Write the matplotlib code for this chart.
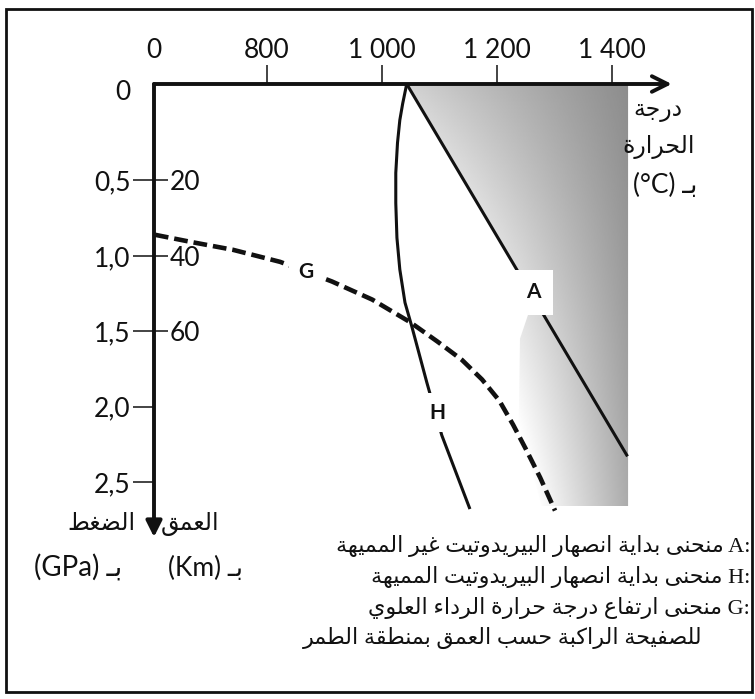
import numpy as np
import matplotlib
matplotlib.use('Agg')
import matplotlib.pyplot as plt
from matplotlib.patches import Polygon, Rectangle

# ---- values ----
# temperature axis (°C), broken between 0 and 800
temp_ticks = [800, 1000, 1200, 1400]
temp_labels = ['800', '1 000', '1 200', '1 400']
temp_zero = 603.5          # position of the "0" of the broken axis
temp_end = 1504            # arrow tip

# pressure axis (GPa) and matching depth (km, 40 km per GPa)
pres_ticks = [0.5, 1.0, 1.5, 2.0, 2.5]
pres_labels = ['0,5', '1,0', '1,5', '2,0', '2,5']
depth_ticks = [20, 40, 60]
pres_top = -0.14           # level of the temperature axis
pres_end = 2.865           # arrow tip

# A : onset of melting of dry peridotite
A_temp = [1043, 1427]
A_pres = [-0.14, 2.33]

# H : onset of melting of hydrated peridotite
H_temp = [1043, 1036, 1031, 1027, 1024, 1024, 1026, 1031, 1040, 1052, 1078, 1104, 1152]
H_pres = [-0.14, -0.01, 0.10, 0.25, 0.45, 0.65, 0.88, 1.09, 1.31, 1.47, 1.84, 2.19, 2.67]

# G : temperature of the upper mantle of the overriding plate vs depth
G_temp = [605, 671, 741, 823, 913, 983, 1049, 1097, 1139, 1174, 1204, 1228, 1250, 1275, 1301]
G_pres = [0.86, 0.91, 0.96, 1.04, 1.17, 1.29, 1.44, 1.57, 1.69, 1.82, 1.96, 2.12, 2.28, 2.47, 2.69]

# shaded (melting) zone
shade_temp = [1043, 1428, 1428, 1278, 1238, 1240, 1255, 1267]
shade_pres = [-0.14, -0.14, 2.66, 2.66, 2.1, 1.55, 1.38, 1.3]

# curve labels (letter, temperature, pressure)
curve_labels = [('A', 1263, 1.24), ('G', 868, 1.11), ('H', 1097, 2.04)]

temp_title = ['درجة', 'الحرارة', 'بـ (°C)']
pres_title = ['الضغط', 'بـ (GPa)']
depth_title = ['العمق', 'بـ (Km)']
legend_lines = ['A: منحنى بداية انصهار البيريدوتيت غير المميهة',
                'H: منحنى بداية انصهار البيريدوتيت المميهة',
                'G: منحنى ارتفاع درجة حرارة الرداء العلوي',
                'للصفيحة الراكبة حسب العمق بمنطقة الطمر']

# ---- simple arabic shaping (no reshaper available) ----
FORMS = {'ء': (0xFE80, False), 'آ': (0xFE81, False), 'أ': (0xFE83, False),
         'ؤ': (0xFE85, False), 'إ': (0xFE87, False), 'ئ': (0xFE89, True),
         'ا': (0xFE8D, False), 'ب': (0xFE8F, True), 'ة': (0xFE93, False),
         'ت': (0xFE95, True), 'ث': (0xFE99, True), 'ج': (0xFE9D, True),
         'ح': (0xFEA1, True), 'خ': (0xFEA5, True), 'د': (0xFEA9, False),
         'ذ': (0xFEAB, False), 'ر': (0xFEAD, False), 'ز': (0xFEAF, False),
         'س': (0xFEB1, True), 'ش': (0xFEB5, True), 'ص': (0xFEB9, True),
         'ض': (0xFEBD, True), 'ط': (0xFEC1, True), 'ظ': (0xFEC5, True),
         'ع': (0xFEC9, True), 'غ': (0xFECD, True), 'ف': (0xFED1, True),
         'ق': (0xFED5, True), 'ك': (0xFED9, True), 'ل': (0xFEDD, True),
         'م': (0xFEE1, True), 'ن': (0xFEE5, True), 'ه': (0xFEE9, True),
         'و': (0xFEED, False), 'ى': (0xFEEF, False), 'ي': (0xFEF1, True)}
LAM_ALEF = {'آ': 0xFEF5, 'أ': 0xFEF7, 'إ': 0xFEF9, 'ا': 0xFEFB}
TATWEEL = 'ـ'


def joins_forward(ch):
    return ch == TATWEEL or (ch in FORMS and FORMS[ch][1])


def shape_word(word):
    out = []
    i = 0
    while i < len(word):
        c = word[i]
        prev = i > 0 and joins_forward(word[i - 1])
        if c == 'ل' and i + 1 < len(word) and word[i + 1] in LAM_ALEF:
            out.append(chr(LAM_ALEF[word[i + 1]] + (1 if prev else 0)))
            i += 2
            continue
        if c in FORMS and c != 'ء':
            base, dual = FORMS[c]
            nxt = i + 1 < len(word) and (word[i + 1] in FORMS or word[i + 1] == TATWEEL)
            fwd = dual and nxt
            form = 3 if (prev and fwd) else 1 if prev else 2 if fwd else 0
            out.append(chr(base + form))
        elif c == 'ء':
            out.append(chr(0xFE80))
        else:
            out.append(c)
        i += 1
    return ''.join(reversed(out))


def rtl(text):
    words = text.split(' ')
    vis = [shape_word(w) if any(ch in FORMS or ch == TATWEEL for ch in w) else w
           for w in reversed(words)]
    return ' '.join(vis)


W, H = 755, 699
fig = plt.figure(figsize=(W / 100, H / 100), dpi=100)
fig.patch.set_facecolor('white')


def fpos(x, y):
    return x / W, 1 - y / H


ax = fig.add_axes([154 / W, 1 - 545 / H, (690 - 154) / W, (545 - 84) / H])

# shaded zone: darker towards high temperature, fading towards the bottom left
u = np.linspace(0, 1, 300)[None, :]
v = np.linspace(0, 1, 300)[:, None]
dark_top = 0.45 - 0.27 * (1 - u)
dark_bot = 0.33 - 0.81 * (1 - u)
dark = np.clip(dark_top + (dark_bot - dark_top) * v, 0, 1)
im = ax.imshow(1 - dark, cmap='gray', vmin=0, vmax=1, aspect='auto',
               interpolation='bilinear',
               extent=[min(shade_temp), max(shade_temp), max(shade_pres), min(shade_pres)],
               zorder=0)
zone = Polygon(np.column_stack([shade_temp, shade_pres]), closed=True,
               facecolor='none', edgecolor='none')
ax.add_patch(zone)
im.set_clip_path(zone)

ink = '#111111'
ax.plot(A_temp, A_pres, color=ink, lw=2.2, zorder=3, solid_capstyle='butt')
ax.plot(H_temp, H_pres, color=ink, lw=2.2, zorder=3)
ax.plot(G_temp, G_pres, color=ink, lw=3.3, zorder=3, dashes=(3.0, 1.3))

for name, t, p in curve_labels:
    pad = 0.6 if name == 'A' else 0.45
    ax.text(t, p, name, fontsize=15, fontweight='bold', family='Lato', color=ink,
            ha='center', va='center', zorder=5,
            bbox=dict(boxstyle='square,pad=%s' % pad, fc='white', ec='none'))

ax.set_xlim(temp_zero, 1535.7)
ax.set_ylim(2.918, pres_top)
for s in ax.spines.values():
    s.set_visible(False)

# axes drawn as arrows
ax.annotate('', xy=(temp_end, pres_top), xytext=(temp_zero, pres_top),
            arrowprops=dict(arrowstyle='->', lw=2.8, color=ink, mutation_scale=28,
                            shrinkA=0, shrinkB=0), annotation_clip=False, zorder=4)
ax.annotate('', xy=(temp_zero, pres_end), xytext=(temp_zero, pres_top),
            arrowprops=dict(arrowstyle='-|>', lw=2.8, color=ink, mutation_scale=24,
                            shrinkA=0, shrinkB=0), annotation_clip=False, zorder=4)

ax.xaxis.tick_top()
ax.set_xticks([temp_zero] + temp_ticks, ['0'] + temp_labels)
ax.tick_params(axis='x', direction='out', length=14, width=1.1, pad=1, colors=ink,
               labelsize=19)
ax.xaxis.get_major_ticks()[0].tick2line.set_visible(False)
ax.set_yticks(pres_ticks, pres_labels)
ax.tick_params(axis='y', direction='out', length=15, width=1.1, pad=2, colors=ink,
               labelsize=19)
for lab in ax.get_xticklabels() + ax.get_yticklabels():
    lab.set_family('Lato')

ax.annotate('0', xy=(temp_zero, pres_top), xytext=(-17, -6), textcoords='offset points',
            ha='right', va='center', fontsize=19, family='Lato', color=ink,
            annotation_clip=False)

depth = ax.secondary_yaxis(0, functions=(lambda p: p * 40, lambda d: d / 40))
depth.set_alignment('right')
depth.set_yticks(depth_ticks)
depth.tick_params(direction='out', length=10, width=1.1, pad=1, colors=ink, labelsize=19)
for lab in depth.get_yticklabels():
    lab.set_family('Lato')
for s in depth.spines.values():
    s.set_visible(False)

# axis titles
mix = ['Lato', 'DejaVu Sans']
for txt, (x, y), fs in zip(temp_title, [(658, 111), (659, 147), (665, 185)], [17, 17, 19]):
    fig.text(*fpos(x, y), rtl(txt), ha='center', va='center', fontsize=fs,
             family=mix, color=ink)
for txt, (x, y), fs in zip(pres_title, [(101, 524), (78, 568)], [17, 20]):
    fig.text(*fpos(x, y), rtl(txt), ha='center', va='center', fontsize=fs,
             family=mix, color=ink)
for txt, (x, y), fs in zip(depth_title, [(190, 524), (206, 568)], [17, 19]):
    fig.text(*fpos(x, y), rtl(txt), ha='center', va='center', fontsize=fs,
             family=mix, color=ink)

# legend
serif = ['Liberation Serif', 'DejaVu Sans']
for txt, (x, y) in zip(legend_lines, [(750, 546), (750, 577), (750, 608), (703, 638)]):
    fig.text(*fpos(x, y), rtl(txt), ha='right', va='center', fontsize=16,
             family=serif, color=ink)

# frame around the figure
fig.add_artist(Rectangle(fpos(6, 692), 746 / W, 683 / H, transform=fig.transFigure,
                         fill=False, lw=2, ec=ink))

fig.savefig('out.png', dpi=100)
